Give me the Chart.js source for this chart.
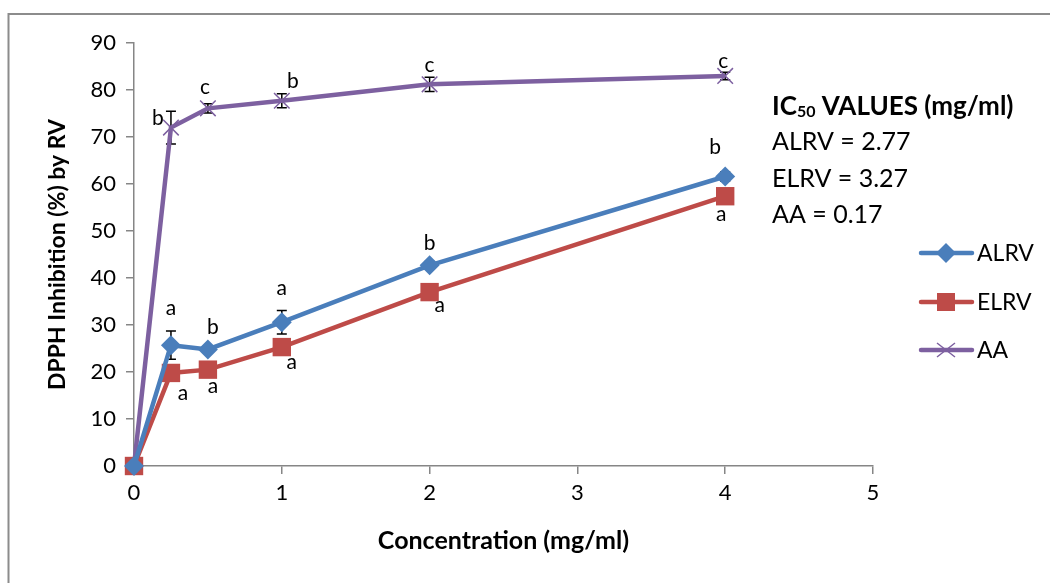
<!DOCTYPE html>
<html>
<head>
<meta charset="utf-8">
<script src="https://cdn.jsdelivr.net/npm/chart.js@4"></script>
<style>
  html, body { margin: 0; padding: 0; background: #fff; }
  #wrap { width: 1050px; height: 583px; }
</style>
</head>
<body>
<div id="wrap"><canvas id="chart" width="1050" height="583"></canvas></div>
<script>
// concentrations (mg/ml)
const conc = [0, 0.25, 0.5, 1, 2, 4];

// DPPH inhibition (%)
const alrv = [0, 25.7, 24.8, 30.6, 42.7, 61.6];
const elrv = [0, 19.8, 20.5, 25.3, 37.0, 57.4];
const aa = [0, 72.0, 76.1, 77.7, 81.2, 83.0];

// error bar half-widths
const alrvErr = [0, 3.0, 0.8, 2.5, 0.8, 1.0];
const elrvErr = [0, 0.8, 0.8, 1.0, 0.8, 0.8];
const aaErr = [0, 3.5, 1.0, 1.5, 1.5, 0.8];

// significance letters
const alrvLetters = ["", "a", "b", "a", "b", "b"];
const elrvLetters = ["", "a", "a", "a", "a", "a"];
const aaLetters = ["", "b", "c", "b", "c", "c"];

const xTicks = [0, 1, 2, 3, 4, 5];
const icTitle = "IC50 VALUES (mg/ml)";
const icLines = ["ALRV = 2.77", "ELRV = 3.27", "AA = 0.17"];

const FONT = "Lato, 'Open Sans', sans-serif";
const AXIS = "#868686";

const toPoints = vals => conc.map((x, i) => ({ x: x, y: vals[i] }));

// letter offsets (px) per series
const letterOffsets = {
  ALRV: [null, [0, -37], [5, -22], [0, -34], [0, -22], [-10, -29]],
  ELRV: [null, [12, 20], [5, 17], [10, 15], [10, 13], [-4, 18]],
  AA: [null, [-13, -9], [-3, -21], [11, -20], [0, -19], [-2, -15]]
};

// error bars go under the markers, as in the original
const errorBars = {
  id: "errorBars",
  beforeDatasetsDraw(chart) {
    const ctx = chart.ctx;
    const y = chart.scales.y;
    const errs = [alrvErr, elrvErr, aaErr];
    ctx.save();
    ctx.strokeStyle = "#000";
    ctx.lineWidth = 1.5;
    chart.data.datasets.forEach((ds, di) => {
      const meta = chart.getDatasetMeta(di);
      meta.data.forEach((pt, i) => {
        const e = errs[di][i];
        if (!e) return;
        const v = ds.data[i].y;
        const top = y.getPixelForValue(v + e);
        const bot = y.getPixelForValue(v - e);
        ctx.beginPath();
        ctx.moveTo(pt.x, top); ctx.lineTo(pt.x, bot);
        ctx.moveTo(pt.x - 5, top); ctx.lineTo(pt.x + 5, top);
        ctx.moveTo(pt.x - 5, bot); ctx.lineTo(pt.x + 5, bot);
        ctx.stroke();
      });
    });
    ctx.restore();
  }
};

const letters = {
  id: "letters",
  afterDraw(chart) {
    const ctx = chart.ctx;
    const sets = [alrvLetters, elrvLetters, aaLetters];
    ctx.save();
    ctx.font = "21px " + FONT;
    ctx.fillStyle = "#000";
    ctx.textAlign = "center";
    ctx.textBaseline = "middle";
    chart.data.datasets.forEach((ds, di) => {
      const meta = chart.getDatasetMeta(di);
      meta.data.forEach((pt, i) => {
        const t = sets[di][i];
        const off = letterOffsets[ds.label][i];
        if (!t || !off) return;
        ctx.fillText(t, pt.x + off[0], pt.y + off[1]);
      });
    });
    ctx.restore();
  }
};

const sideText = {
  id: "sideText",
  afterDraw(chart) {
    const ctx = chart.ctx;
    ctx.save();
    ctx.fillStyle = "#000";
    ctx.textBaseline = "middle";
    ctx.textAlign = "left";
    // IC50 title with subscript
    let x = 772;
    ctx.font = "bold 26px " + FONT;
    ctx.fillText("IC", x, 107);
    x += ctx.measureText("IC").width;
    ctx.font = "bold 16px " + FONT;
    ctx.fillText("50", x, 112);
    x += ctx.measureText("50").width;
    ctx.font = "bold 26px " + FONT;
    ctx.fillText(icTitle.replace("IC50", ""), x, 107);
    ctx.font = "25px " + FONT;
    icLines.forEach((l, i) => ctx.fillText(l, 772, 142 + i * 36.5));

    // legend
    const rows = [253, 302, 350];
    chart.data.datasets.forEach((ds, i) => {
      const yy = rows[i];
      ctx.strokeStyle = ds.borderColor;
      ctx.lineWidth = 4.5;
      ctx.lineCap = "round";
      ctx.beginPath();
      ctx.moveTo(921, yy); ctx.lineTo(972, yy);
      ctx.stroke();
      ctx.fillStyle = ds.borderColor;
      if (ds.pointStyle === "rectRot") {
        ctx.beginPath();
        ctx.moveTo(946, yy - 10); ctx.lineTo(956, yy); ctx.lineTo(946, yy + 10); ctx.lineTo(936, yy);
        ctx.closePath(); ctx.fill();
      } else if (ds.pointStyle === "rect") {
        ctx.fillRect(937, yy - 9, 18, 18);
      } else {
        ctx.lineWidth = 1.5;
        ctx.lineCap = "butt";
        ctx.beginPath();
        ctx.moveTo(937, yy - 7); ctx.lineTo(955, yy + 7);
        ctx.moveTo(937, yy + 7); ctx.lineTo(955, yy - 7);
        ctx.stroke();
      }
      ctx.fillStyle = "#000";
      ctx.font = "23px " + FONT;
      ctx.fillText(ds.label, 977, yy + 1);
    });

    // outer frame (only top and left edges show)
    ctx.strokeStyle = "#8c8c8c";
    ctx.lineWidth = 2;
    ctx.beginPath();
    ctx.moveTo(8.5, 583); ctx.lineTo(8.5, 14); ctx.lineTo(1050, 14);
    ctx.stroke();
    ctx.restore();
  }
};

new Chart(document.getElementById("chart"), {
  type: "scatter",
  data: {
    datasets: [
      {
        label: "ALRV",
        data: toPoints(alrv),
        showLine: true,
        clip: false,
        borderColor: "#4A7EBB",
        backgroundColor: "#4A7EBB",
        borderWidth: 4.5,
        pointStyle: "rectRot",
        pointRadius: 10,
        pointBorderWidth: 0
      },
      {
        label: "ELRV",
        data: toPoints(elrv),
        showLine: true,
        clip: false,
        borderColor: "#BE4B48",
        backgroundColor: "#BE4B48",
        borderWidth: 4.5,
        pointStyle: "rect",
        pointRadius: 13,
        pointBorderWidth: 0
      },
      {
        label: "AA",
        data: toPoints(aa),
        showLine: true,
        clip: false,
        borderColor: "#7D60A0",
        backgroundColor: "#7D60A0",
        borderWidth: 4.5,
        pointStyle: "crossRot",
        pointRadius: 11,
        pointBorderWidth: 1.5
      }
    ]
  },
  options: {
    responsive: false,
    animation: false,
    layout: { padding: { top: 43, right: 177, left: 0, bottom: 0 } },
    plugins: { legend: { display: false }, tooltip: { enabled: false } },
    scales: {
      x: {
        type: "linear",
        min: 0, max: 5,
        afterBuildTicks: s => { s.ticks = xTicks.map(v => ({ value: v })); },
        afterFit: s => { s.height = 117; },
        grid: { drawOnChartArea: false, drawTicks: true, tickLength: 8, color: AXIS, lineWidth: 1.5 },
        border: { color: AXIS, width: 1.5 },
        ticks: { color: "#000", font: { family: FONT, size: 22 }, padding: 6 },
        title: { display: true, text: "Concentration (mg/ml)", color: "#000", font: { family: FONT, size: 25, weight: "bold" }, padding: { top: 4, bottom: 27 } }
      },
      y: {
        min: 0, max: 90,
        ticks: { stepSize: 10, color: "#000", font: { family: FONT, size: 22 }, padding: 10 },
        afterFit: s => { s.width = 134; },
        grid: { drawOnChartArea: false, drawTicks: true, tickLength: 8, color: AXIS, lineWidth: 1.5 },
        border: { color: AXIS, width: 1.5 },
        title: { display: true, text: "DPPH Inhibition (%) by RV", color: "#000", font: { family: FONT, size: 23, weight: "bold" }, padding: { top: 44, bottom: 0 } }
      }
    }
  },
  plugins: [errorBars, letters, sideText]
});
</script>
</body>
</html>
